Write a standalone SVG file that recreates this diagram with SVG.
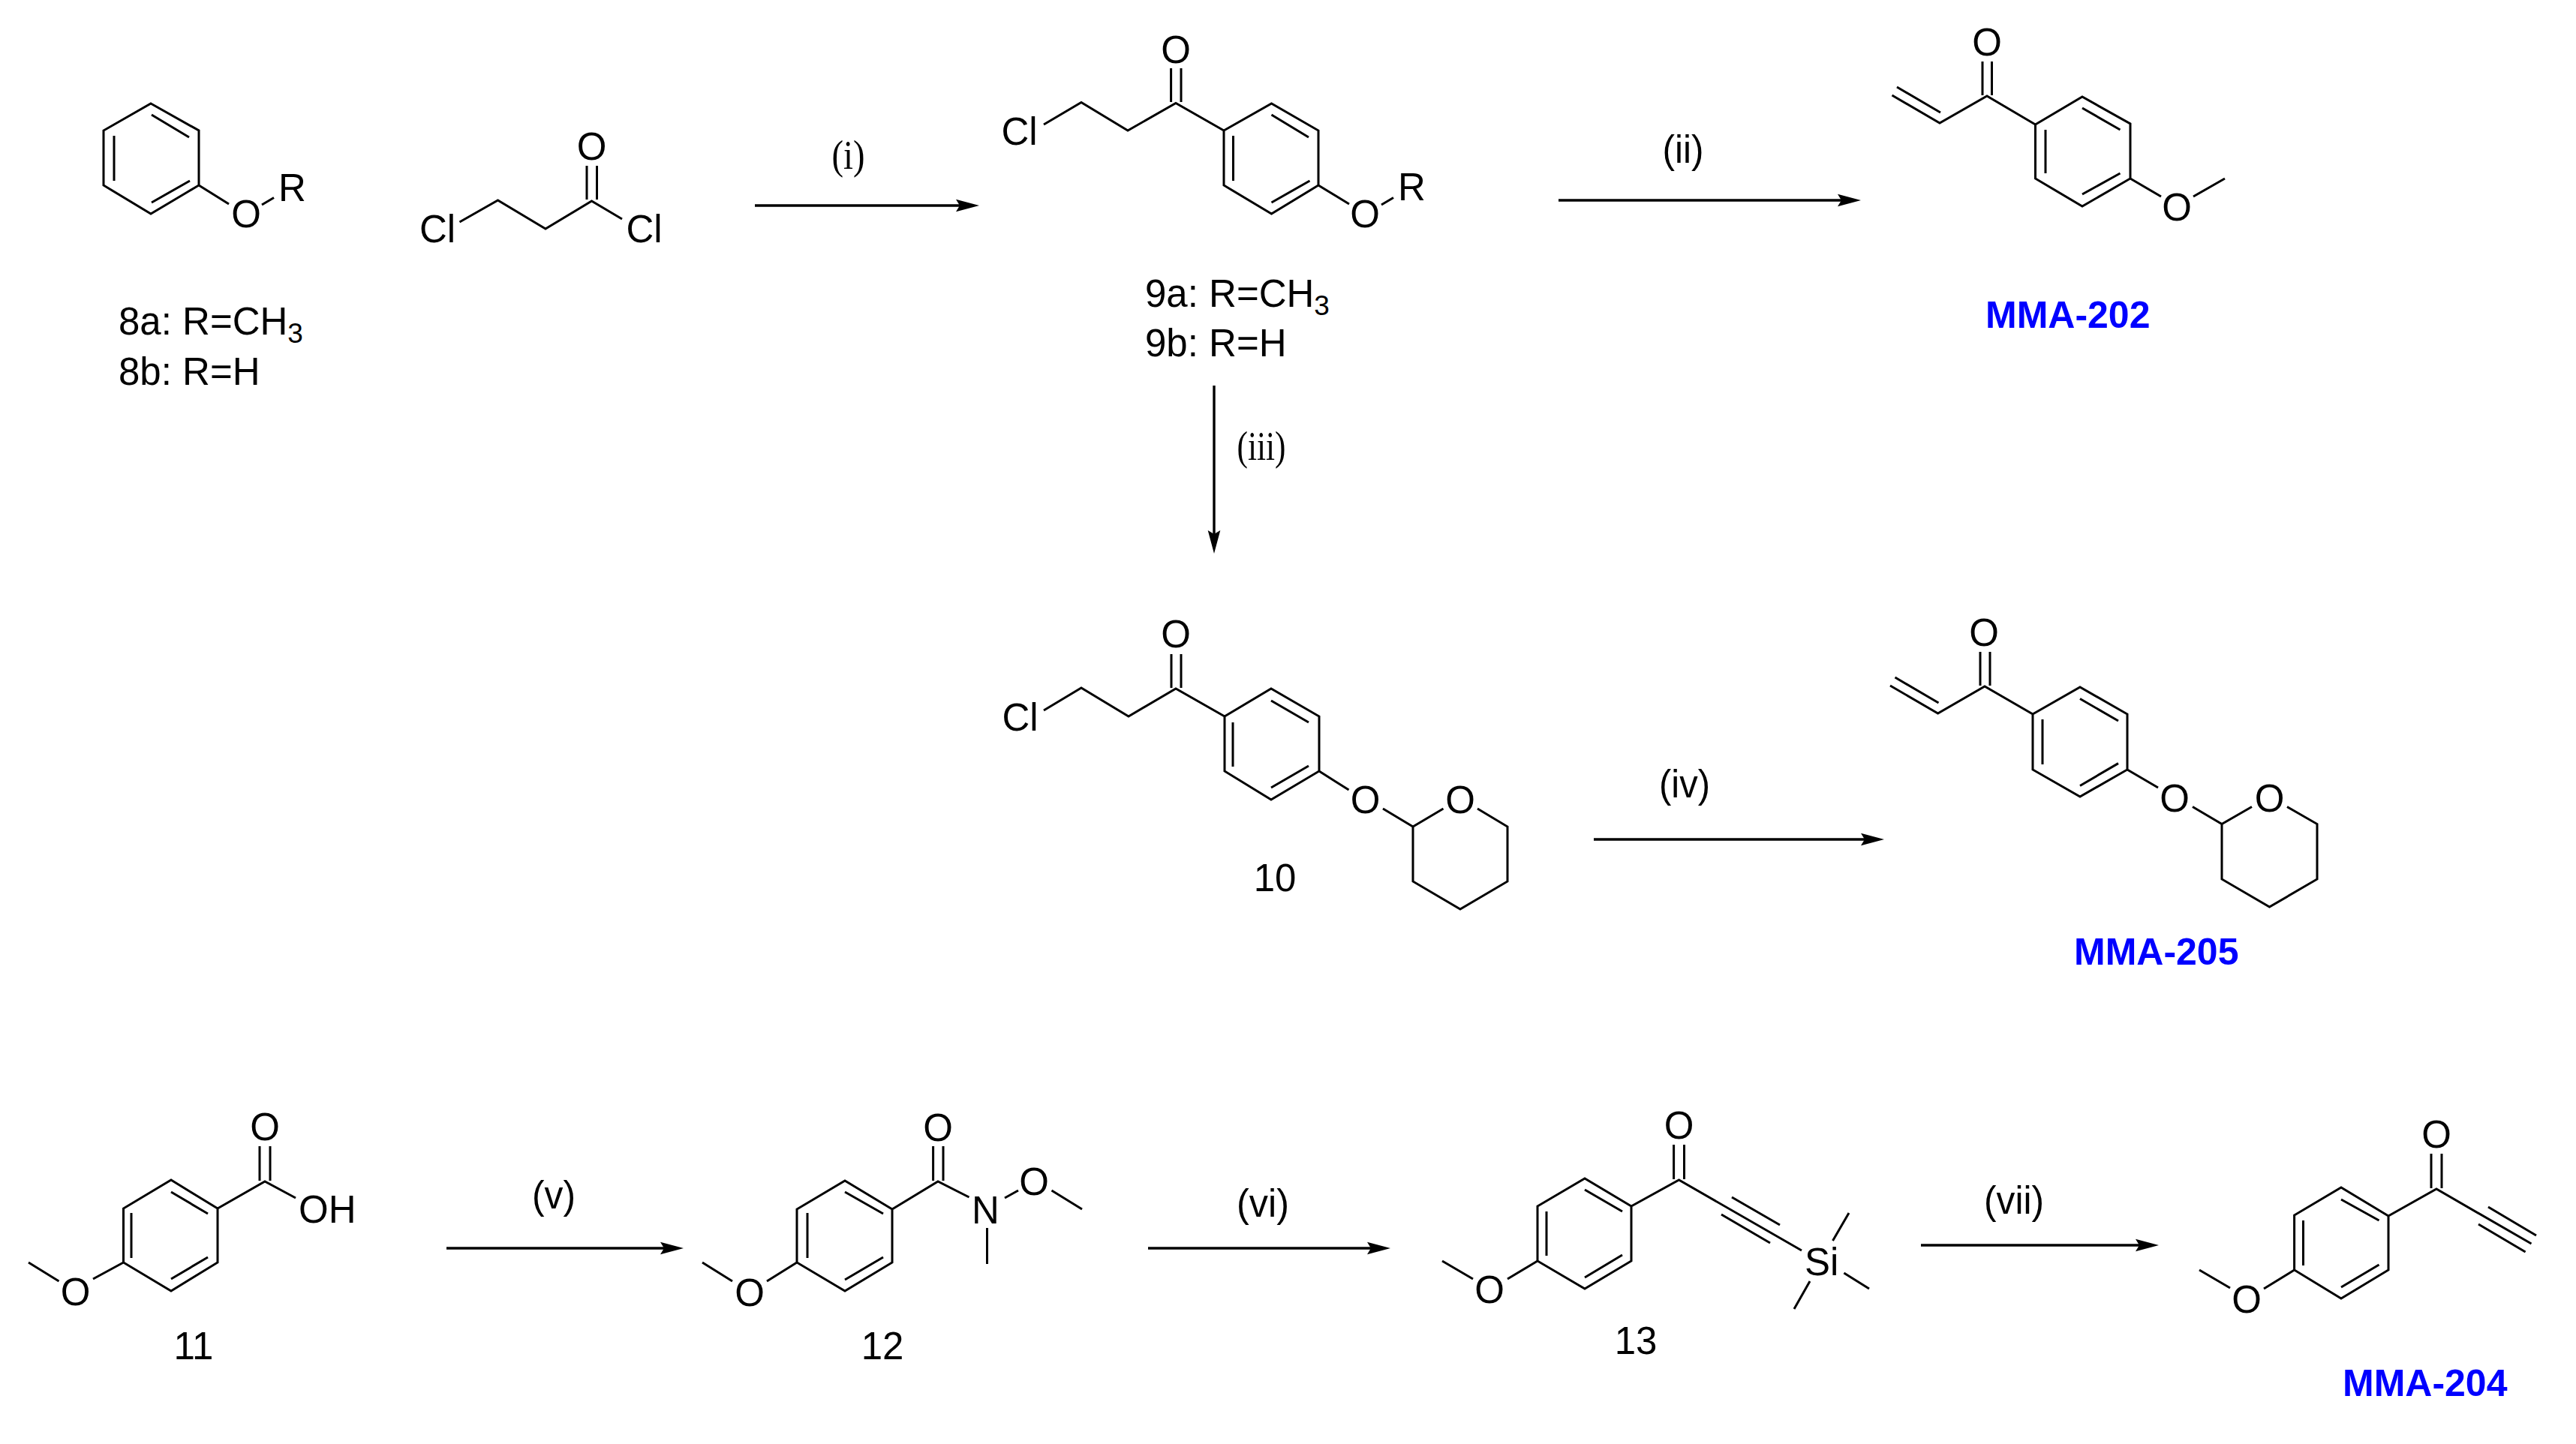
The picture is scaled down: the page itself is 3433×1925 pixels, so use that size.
<svg xmlns="http://www.w3.org/2000/svg" width="3433" height="1925" viewBox="0 0 3433 1925">
<style>
.b{fill:none;stroke:#000;stroke-width:3;stroke-linejoin:miter}
text{font-family:"Liberation Sans",Arial,sans-serif;font-size:51px;fill:#000}
.m{text-anchor:middle}
.s{font-size:37px}
.t{font-family:"Liberation Serif","Times New Roman",serif;font-size:54px}
.c{font-weight:bold;font-size:50px;fill:#0000ff}
.a{fill:none;stroke:#000;stroke-width:3.4;marker-end:url(#h)}
</style>
<defs>
<marker id="h" markerUnits="userSpaceOnUse" viewBox="0 0 32 18" markerWidth="32" markerHeight="18" refX="6" refY="9" orient="auto">
<path d="M0 .7L31 9L0 17.3L5 9Z" fill="#000"/>
</marker>
</defs>
<rect width="3433" height="1925" fill="#fff"/>
<g id="connectors">
<line class="a" x1="1006" y1="274" x2="1280" y2="274"/>
<line class="a" x1="2077" y1="267" x2="2455" y2="267"/>
<line class="a" x1="1618" y1="514" x2="1618" y2="713"/>
<line class="a" x1="2124" y1="1119" x2="2486" y2="1119"/>
<line class="a" x1="595" y1="1664" x2="886" y2="1664"/>
<line class="a" x1="1530" y1="1664" x2="1828" y2="1664"/>
<line class="a" x1="2560" y1="1660" x2="2852" y2="1660"/>
<text class="t" x="1130.500" y="225" text-anchor="middle" textLength="44" lengthAdjust="spacingAndGlyphs">(i)</text>
<text x="2243" y="217" text-anchor="middle" textLength="55" lengthAdjust="spacingAndGlyphs">(ii)</text>
<text class="t" x="1681" y="613" text-anchor="middle" textLength="65" lengthAdjust="spacingAndGlyphs">(iii)</text>
<text x="2245" y="1063" text-anchor="middle" textLength="68" lengthAdjust="spacingAndGlyphs">(iv)</text>
<text x="738" y="1611" text-anchor="middle" textLength="58" lengthAdjust="spacingAndGlyphs">(v)</text>
<text x="1683" y="1622" text-anchor="middle" textLength="70" lengthAdjust="spacingAndGlyphs">(vi)</text>
<text x="2684" y="1618" text-anchor="middle" textLength="80" lengthAdjust="spacingAndGlyphs">(vii)</text>
</g>
<g id="mol-8">
<path class="b" d="M201 138L265 174V247L201 285L138 247V174ZM202 153L252 183M152 181V241M202 270L253 241M265 247L305 272M349 273L365 263.500"/>
<text class="m" x="328" y="303">O</text>
<text x="371" y="268">R</text>
<text x="158" y="446">8a: R=CH<tspan class="s" dy="11">3</tspan></text>
<text x="158" y="512.500">8b: R=H</text>
</g>
<g id="chloropropionyl-chloride">
<path class="b" d="M612.500 296L663.500 267L727 305L788.500 268L829 292M782 221V266M795.500 221V266"/>
<text class="m" x="788.500" y="213">O</text>
<text x="559" y="323">Cl</text>
<text x="834.500" y="323">Cl</text>
</g>
<g id="mol-9">
<path class="b" d="M1391 166L1441 136.500L1503 174L1567 137.500L1631 174M1560.600 91V136M1574 91V136M1631 174L1694.500 138L1757 174V247L1694.500 285L1631 247ZM1694.500 153L1744 183M1643.500 181V241M1694.500 270L1745.500 241M1757 247L1798 272M1841 273L1857 263.500"/>
<text class="m" x="1567" y="83.500">O</text>
<text x="1334.500" y="193">Cl</text>
<text class="m" x="1819" y="303">O</text>
<text x="1863" y="267">R</text>
<text x="1526" y="409">9a: R=CH<tspan class="s" dy="11">3</tspan></text>
<text x="1526" y="475">9b: R=H</text>
</g>
<g id="MMA-202">
<path class="b" d="M2521.500 127L2585 164L2648 128L2712.500 166M2528 116L2586 150M2642 82V127M2654.500 82V127M2712.500 166L2775 129L2839 165V238L2775 275L2712.500 238ZM2775 144L2825.500 173M2726 173V231M2775 259L2825.500 231M2839 238L2880 262M2923 262L2965 238"/>
<text class="m" x="2648" y="74">O</text>
<text class="m" x="2901" y="294">O</text>
<text class="c" x="2646" y="437">MMA-202</text>
</g>
<g id="mol-10">
<path class="b" d="M1391 947L1441 917L1504 955L1567 918L1632 955M1561 872V917M1574 872V917M1632 955L1694 918L1758 955V1028L1694 1066L1632 1028ZM1694 934L1744 963M1643 963V1022M1694 1050L1744 1021M1758 1028L1797.500 1053M1843 1078L1883 1102L1923.500 1078M1969 1078L2009 1102V1175L1946 1212L1883 1175V1102"/>
<text class="m" x="1567" y="863">O</text>
<text x="1335.500" y="974">Cl</text>
<text class="m" x="1819.500" y="1084">O</text>
<text class="m" x="1946" y="1084">O</text>
<text class="m" x="1699" y="1188">10</text>
</g>
<g id="MMA-205">
<path class="b" d="M2519 914L2582.600 951L2645 915L2709 952M2525.500 903L2583.500 937M2639 869V914M2652 869V914M2709 952L2772 916L2835 952V1026L2772 1062L2709 1026ZM2772 931.500L2823 961M2722 959V1019M2772 1047.500L2823 1017.600M2835 1026L2876 1050M2922 1075.500L2961 1098.500L3001 1075.500M3048 1075.500L3088 1098.500V1172L3024.500 1209L2961 1172V1098.500"/>
<text class="m" x="2644" y="861">O</text>
<text class="m" x="2898" y="1082">O</text>
<text class="m" x="3024.500" y="1082">O</text>
<text class="c" x="2764" y="1286">MMA-205</text>
</g>
<g id="mol-11">
<path class="b" d="M290 1611L228 1573L164.500 1611V1683L228 1721L290 1683ZM228 1589L277 1618M175 1617V1677M228 1705L277 1676M290 1611L353 1575L394 1597M346 1528V1574M360 1528V1574M164.500 1683L124 1705M78.500 1708L38 1683"/>
<text class="m" x="353" y="1520">O</text>
<text x="398" y="1630">OH</text>
<text class="m" x="100.500" y="1740">O</text>
<text class="m" x="258" y="1812">11</text>
</g>
<g id="mol-12">
<path class="b" d="M1189 1612L1126 1574L1062 1612V1683L1126 1721L1189 1683ZM1126 1589L1177 1618M1076 1617V1677M1126 1706L1177 1676M1189 1612L1250 1575L1291.500 1596M1243.600 1528V1574M1257 1528V1574M1062 1683L1022 1708M976 1708L936 1683M1339 1597L1357 1587M1401.500 1587L1442 1612M1315.500 1637V1685"/>
<text class="m" x="1250" y="1521">O</text>
<text class="m" x="999" y="1741">O</text>
<text x="1295" y="1631">N</text>
<text class="m" x="1378" y="1593">O</text>
<text class="m" x="1176" y="1812">12</text>
</g>
<g id="mol-13">
<path class="b" d="M2174 1608L2112 1571L2049 1608V1681L2112 1718L2174 1681ZM2112 1586L2162 1615M2061 1615V1674M2112 1703L2162 1673M2174 1608L2237.500 1573L2401 1667M2230.600 1526V1572M2244.500 1526V1572M2308 1596L2372 1633M2294 1619L2359 1657M2049 1681L2009 1705M1963 1705L1922 1681M2442.500 1654L2464 1617M2457.400 1697L2491 1718M2412 1708L2391 1745"/>
<text class="m" x="2237.500" y="1518">O</text>
<text class="m" x="1985" y="1737">O</text>
<text x="2405" y="1700">Si</text>
<text class="m" x="2180" y="1805">13</text>
</g>
<g id="MMA-204">
<path class="b" d="M3183 1621L3120 1583L3057.600 1620V1693L3120 1731L3183 1693ZM3120 1599L3170.500 1627M3069.500 1627V1687M3120 1716L3170.500 1686M3183 1621L3247 1585L3373.500 1658M3240 1538V1584M3254 1538V1584M3316 1609L3380 1647M3303 1632L3365.600 1669M3057.600 1693L3017 1718M2972 1717L2931 1693"/>
<text class="m" x="3247" y="1530">O</text>
<text class="m" x="2994" y="1750">O</text>
<text class="c" x="3122" y="1861">MMA-204</text>
</g>
</svg>
